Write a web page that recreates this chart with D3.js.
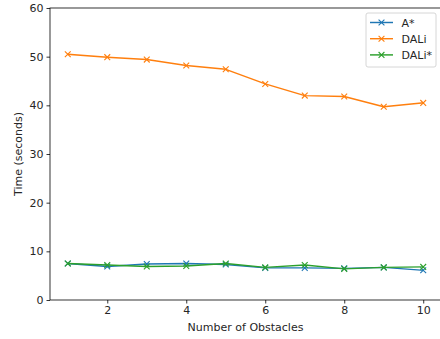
<!DOCTYPE html>
<html>
<head>
<meta charset="utf-8">
<script src="https://cdn.jsdelivr.net/npm/d3@7"></script>
<style>
  html, body { margin: 0; padding: 0; background: #fff; }
  svg { display: block; }
  text { font-family: "DejaVu Sans", sans-serif; fill: #262626; }
</style>
</head>
<body>
<svg id="chart" width="440" height="339"></svg>
<script>
// Number of obstacles on the x axis
const obstacles = [1, 2, 3, 4, 5, 6, 7, 8, 9, 10];
// Planning time (seconds) per planner
const aStar = [7.5, 6.9, 7.4, 7.5, 7.3, 6.6, 6.6, 6.5, 6.7, 6.1];
const dali = [50.5, 49.9, 49.4, 48.2, 47.4, 44.4, 42.0, 41.8, 39.7, 40.5];
const daliStar = [7.5, 7.2, 6.9, 7.0, 7.5, 6.7, 7.2, 6.4, 6.7, 6.8];
const seriesNames = ["A*", "DALi", "DALi*"];
const seriesColors = ["#1f77b4", "#ff7f0e", "#2ca02c"];
const xTicks = [2, 4, 6, 8, 10];
const yTicks = [0, 10, 20, 30, 40, 50, 60];

const series = [aStar, dali, daliStar].map((vals, i) => ({
  name: seriesNames[i],
  color: seriesColors[i],
  points: obstacles.map((x, j) => ({ x, y: vals[j] }))
}));

const svg = d3.select("#chart");
const plot = { left: 50, top: 8, right: 441, bottom: 300 };
const fontSize = "11px";

const x = d3.scaleLinear().domain([0.55, 10.45]).range([plot.left, plot.right]);
const y = d3.scaleLinear().domain([0, 60]).range([plot.bottom, plot.top]);

// Axes
const xAxis = svg.append("g")
  .attr("transform", `translate(0,${plot.bottom})`)
  .call(d3.axisBottom(x).tickValues(xTicks).tickSize(3.5).tickPadding(3).tickSizeOuter(0));
const yAxis = svg.append("g")
  .attr("transform", `translate(${plot.left},0)`)
  .call(d3.axisLeft(y).tickValues(yTicks).tickSize(3.5).tickPadding(3).tickSizeOuter(0));

[xAxis, yAxis].forEach(g => {
  g.select(".domain").remove();
  g.selectAll(".tick line").attr("stroke", "#000").attr("stroke-width", 0.8);
  g.selectAll(".tick text").attr("font-size", fontSize).attr("fill", "#262626")
    .style("font-family", "'DejaVu Sans', sans-serif");
});

// Frame (spines)
svg.append("rect")
  .attr("x", plot.left).attr("y", plot.top)
  .attr("width", plot.right - plot.left).attr("height", plot.bottom - plot.top)
  .attr("fill", "none").attr("stroke", "#000").attr("stroke-width", 0.8);

// Lines and markers
const line = d3.line().x(d => x(d.x)).y(d => y(d.y));
const ms = 2.9;
series.forEach(s => {
  const g = svg.append("g");
  g.append("path").datum(s.points)
    .attr("d", line).attr("fill", "none")
    .attr("stroke", s.color).attr("stroke-width", 1.45)
    .attr("stroke-linejoin", "round").attr("stroke-linecap", "square");
  g.selectAll("path.m").data(s.points).enter().append("path")
    .attr("class", "m")
    .attr("d", d => {
      const cx = x(d.x), cy = y(d.y);
      return `M${cx - ms},${cy - ms}L${cx + ms},${cy + ms}M${cx - ms},${cy + ms}L${cx + ms},${cy - ms}`;
    })
    .attr("stroke", s.color).attr("stroke-width", 1.1).attr("fill", "none");
});

// Axis labels
svg.append("text")
  .attr("x", (plot.left + plot.right) / 2).attr("y", 331)
  .attr("text-anchor", "middle").attr("font-size", fontSize)
  .text("Number of Obstacles");
svg.append("text")
  .attr("transform", `translate(22,${(plot.top + plot.bottom) / 2}) rotate(-90)`)
  .attr("text-anchor", "middle").attr("font-size", fontSize)
  .text("Time (seconds)");

// Legend
const lg = svg.append("g").attr("transform", "translate(366,13)");
lg.append("rect")
  .attr("width", 70).attr("height", 54).attr("rx", 2)
  .attr("fill", "#fff").attr("fill-opacity", 0.8)
  .attr("stroke", "#ccc").attr("stroke-width", 0.8);
series.forEach((s, i) => {
  const cy = 9.5 + i * 16.2;
  lg.append("line").attr("x1", 4).attr("x2", 27).attr("y1", cy).attr("y2", cy)
    .attr("stroke", s.color).attr("stroke-width", 1.45);
  lg.append("path")
    .attr("d", `M${15.5 - ms},${cy - ms}L${15.5 + ms},${cy + ms}M${15.5 - ms},${cy + ms}L${15.5 + ms},${cy - ms}`)
    .attr("stroke", s.color).attr("stroke-width", 1.1);
  lg.append("text").attr("x", 35.5).attr("y", cy + 4)
    .attr("font-size", fontSize).text(s.name);
});
</script>
</body>
</html>
